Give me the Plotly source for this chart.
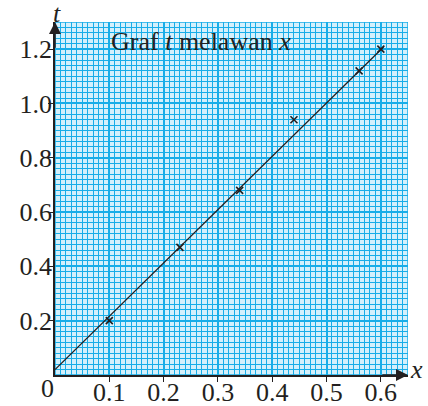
import plotly.graph_objects as go

# data
x_pts = [0.1, 0.23, 0.34, 0.44, 0.56, 0.6]
t_pts = [0.2, 0.47, 0.68, 0.94, 1.12, 1.2]
line_x = [0.0, 0.605]
line_t = [0.02, 1.208]
x_ticks = [0.1, 0.2, 0.3, 0.4, 0.5, 0.6]
x_ticktext = ["0.1", "0.2", "0.3", "0.4", "0.5", "0.6"]
t_ticks = [0.2, 0.4, 0.6, 0.8, 1.0, 1.2]
t_ticktext = ["0.2", "0.4", "0.6", "0.8", "1.0", "1.2"]
title_text = "Graf <i>t</i> melawan <i>x</i>"

FONT = "Liberation Serif"
INK = "#231f20"
CYAN = "#18ade8"
FS = 26

fig = go.Figure()
fig.add_trace(go.Scatter(x=line_x, y=line_t, mode="lines",
                         line=dict(color=INK, width=1.3), hoverinfo="skip"))
fig.add_trace(go.Scatter(x=x_pts, y=t_pts, mode="markers",
                         marker=dict(symbol="x-thin", size=7,
                                     line=dict(color=INK, width=1.6))))

fig.update_layout(
    width=428, height=406,
    margin=dict(l=55, r=20, t=22, b=31, pad=0),
    paper_bgcolor="white",
    plot_bgcolor="#d4f0fc",
    showlegend=False,
    font=dict(family=FONT, size=FS, color=INK),
)
fig.update_xaxes(
    range=[0, 0.65], tickvals=x_ticks, ticktext=x_ticktext,
    showgrid=True, gridcolor=CYAN, gridwidth=1.8,
    minor=dict(dtick=0.01, tick0=0, showgrid=True, gridcolor=CYAN, gridwidth=1),
    showline=True, linecolor=INK, linewidth=1.5,
    ticks="outside", ticklen=5, tickwidth=1.3, tickcolor=INK,
    ticklabelstandoff=-12,
    zeroline=False, fixedrange=True, automargin=False,
)
fig.update_yaxes(
    range=[0, 1.3], tickvals=t_ticks, ticktext=t_ticktext,
    showgrid=True, gridcolor=CYAN, gridwidth=1.8,
    minor=dict(dtick=0.02, tick0=0, showgrid=True, gridcolor=CYAN, gridwidth=1),
    showline=True, linecolor=INK, linewidth=1.5,
    ticks="outside", ticklen=5, tickwidth=1.3, tickcolor=INK,
    ticklabelstandoff=-9,
    zeroline=False, fixedrange=True, automargin=False,
)

# frame edges (right/top)
fig.add_shape(type="rect", xref="x", yref="y", x0=0, x1=0.65, y0=0, y1=1.3,
              line=dict(color=CYAN, width=1.5), layer="below")

# axis arrows
fig.add_annotation(x=0.65, y=0, ax=0.6, ay=0, xref="x", yref="y", axref="x", ayref="y",
                   text="", showarrow=True, arrowhead=2, arrowsize=1.6,
                   arrowwidth=1.5, arrowcolor=INK)
fig.add_annotation(x=0, y=1.3, ax=0, ay=1.2, xref="x", yref="y", axref="x", ayref="y",
                   text="", showarrow=True, arrowhead=2, arrowsize=1.6,
                   arrowwidth=1.5, arrowcolor=INK)

# labels
fig.add_annotation(x=0.1, y=1.23, xref="x", yref="y", text=title_text,
                   showarrow=False, xanchor="left", yanchor="middle",
                   font=dict(family=FONT, size=FS, color=INK))
fig.add_annotation(x=0.003, y=1.024, xref="x", yref="paper", text="<i>t</i>",
                   showarrow=False, xanchor="center", yanchor="middle",
                   font=dict(family=FONT, size=FS, color=INK))
fig.add_annotation(x=1.0, y=0.02, xref="paper", yref="y", text="<i>x</i>",
                   showarrow=False, xanchor="left", yanchor="middle",
                   font=dict(family=FONT, size=FS, color=INK))
fig.add_annotation(x=-0.022, y=-0.037, xref="paper", yref="paper", text="0",
                   showarrow=False, xanchor="center", yanchor="middle",
                   font=dict(family=FONT, size=FS, color=INK))

fig.write_html("out.html", config={"displayModeBar": False},
               post_script="document.body.style.margin='0';document.body.style.overflow='hidden';")
